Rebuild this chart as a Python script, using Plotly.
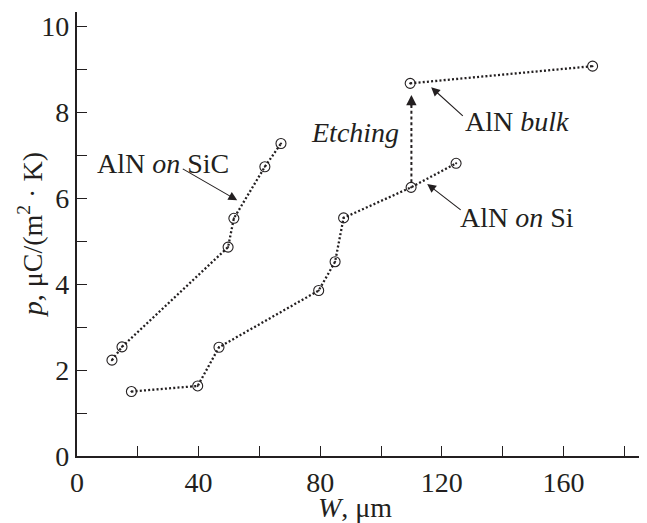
import plotly.graph_objects as go

# Data
sic_w = [11.5, 14.8, 49.7, 51.6, 61.8, 67.1]
sic_p = [2.23, 2.54, 4.86, 5.53, 6.73, 7.27]

si_w = [17.9, 39.7, 46.7, 79.5, 84.9, 87.7, 109.9, 124.7]
si_p = [1.50, 1.63, 2.53, 3.85, 4.52, 5.54, 6.25, 6.81]

bulk_w = [109.6, 169.6]
bulk_p = [8.67, 9.07]

etch_w = [110.0, 110.0]
etch_p = [6.25, 8.40]

x_ticks = [0, 40, 80, 120, 160]
y_ticks = [0, 2, 4, 6, 8, 10]

INK = "#231f20"
FONT = "Liberation Serif"
FS = 28

fig = go.Figure()

marker = dict(symbol="circle-open-dot", size=10, color=INK, line=dict(width=1.1, color=INK))
line = dict(color=INK, width=2.3, dash="2px,2.2px")

for xs, ys in [(sic_w, sic_p), (si_w, si_p), (bulk_w, bulk_p)]:
    fig.add_trace(go.Scatter(x=xs, y=ys, mode="lines+markers", line=line,
                             marker=marker, showlegend=False, hoverinfo="skip"))

# Etching dashed line
fig.add_trace(go.Scatter(x=etch_w, y=[etch_p[0] + 0.12, etch_p[1] - 0.2], mode="lines",
                         line=dict(color=INK, width=2, dash="3px,2.7px"),
                         showlegend=False, hoverinfo="skip"))

annotations = []
annotations.append(dict(x=etch_w[1], y=etch_p[1], ax=etch_w[1], ay=etch_p[1] - 0.3,
                        xref="x", yref="y", axref="x", ayref="y", text="",
                        showarrow=True, arrowhead=2, arrowsize=1.3, arrowwidth=1.6,
                        arrowcolor=INK))

def arrow(x, y, ax, ay):
    annotations.append(dict(x=x, y=y, ax=ax, ay=ay, xref="x", yref="y", axref="x",
                            ayref="y", text="", showarrow=True, arrowhead=2,
                            arrowsize=1.6, arrowwidth=1.1, arrowcolor=INK))

arrow(52.7, 5.95, 34.3, 6.70)
arrow(116.5, 8.58, 127.4, 7.88)
arrow(115.2, 6.33, 126.7, 5.70)

def label(x, y, text):
    annotations.append(dict(x=x, y=y, xref="x", yref="y", text=text, showarrow=False,
                            font=dict(family=FONT, size=FS, color=INK),
                            xanchor="center", yanchor="middle"))

label(28.4, 6.81, "AlN <i>on</i> SiC")
label(91.6, 7.53, "<i>Etching</i>")
label(144.7, 7.79, "AlN <i>bulk</i>")
label(144.8, 5.56, "AlN <i>on</i> Si")

# Axis titles
annotations.append(dict(x=0.488, y=-0.115, xref="paper", yref="paper", text="<i>W</i>, μm",
                        showarrow=False, font=dict(family=FONT, size=FS, color=INK),
                        xanchor="center", yanchor="middle"))
annotations.append(dict(x=-0.08, y=0.498, xref="paper", yref="paper",
                        text="<i>p</i>, μC/(m<sup>2</sup> · K)", textangle=-90,
                        showarrow=False, font=dict(family=FONT, size=FS, color=INK),
                        xanchor="center", yanchor="middle"))

axis_common = dict(
    showline=True, linecolor=INK, linewidth=2.2,
    ticks="inside", ticklen=10, tickwidth=1.2, tickcolor=INK,
    showgrid=False, zeroline=False, automargin=False,
    tickfont=dict(family=FONT, size=FS, color=INK),
)

fig.update_xaxes(range=[0, 187.5], tickvals=x_ticks, ticktext=[str(v) for v in x_ticks],
                 minor=dict(ticks="inside", ticklen=10, tickwidth=1.2, tickcolor=INK, dtick=20, tick0=0),
                 **axis_common)
fig.update_yaxes(range=[0, 10.33], tickvals=y_ticks, ticktext=[str(v) for v in y_ticks],
                 minor=dict(ticks="inside", ticklen=10, tickwidth=1.2, tickcolor=INK, dtick=1, tick0=0),
                 **axis_common)

# page body has an 8px margin, so the figure is sized/offset to compensate
fig.update_layout(
    width=639, height=515,
    margin=dict(l=69, r=0, t=4, b=67),
    paper_bgcolor="white", plot_bgcolor="white",
    annotations=annotations,
    font=dict(family=FONT, size=FS, color=INK),
)

fig.write_html("out.html")
